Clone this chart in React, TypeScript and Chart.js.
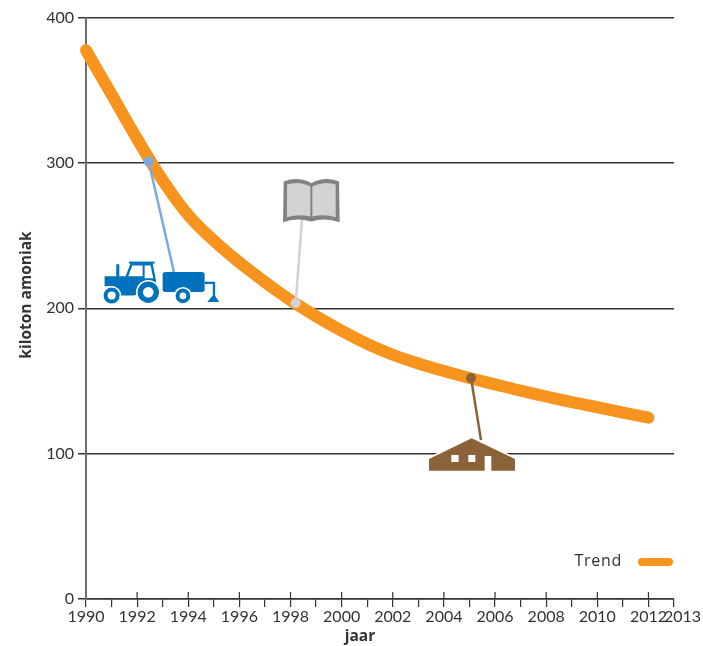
import React, { useEffect, useRef } from "react";
import { Chart, registerables } from "chart.js";

Chart.register(...registerables);

const years = [1990,1991,1992,1993,1994,1995,1996,1997,1998,1999,2000,2001,2002,2003,2004,2005,2006,2007,2008,2009,2010,2011,2012];
const trend = [377.5,347,316.5,288,264,246.5,231.5,218,205.5,194.5,184.5,175.5,168,162,156.8,152,147.6,143.3,139.3,135.5,131.9,128.2,124.7];
const tractorLeader = [{ x: 1992.45, y: 301 }, { x: 1993.44, y: 225 }];
const bookLeader = [{ x: 1998.2, y: 203.6 }, { x: 1998.45, y: 260.8 }];
const farmLeader = [{ x: 2005.06, y: 152 }, { x: 2005.45, y: 109.4 }];
const yTicks = [0, 100, 200, 300, 400];
const legendLabel = "Trend";
const xTitle = "jaar";
const yTitle = "kiloton amoniak";
const lastYear = 2013;

const ORANGE = "#f7941e";
const BLUE = "#0071bc";
const LIGHTBLUE = "#7fa9dc";
const GREY = "#d1d3d4";
const DARKGREY = "#808285";
const BROWN = "#8c6239";
const AXIS = "#6d6e71";
const GRID = "#333333";
const TEXT = "#333333";

function drawTractor(c: CanvasRenderingContext2D) {
  c.fillStyle = BLUE;
  c.fillRect(107, 372, 9, 38);
  c.fillRect(145, 364, 77, 6);
  c.beginPath();
  c.moveTo(72, 408); c.lineTo(135, 408); c.lineTo(150, 368); c.lineTo(216, 368);
  c.lineTo(226, 420); c.lineTo(226, 442); c.lineTo(160, 466); c.lineTo(120, 466); c.lineTo(100, 438); c.lineTo(72, 438);
  c.closePath(); c.fill();
  c.fillStyle = "#fff";
  c.beginPath(); c.moveTo(143, 408); c.lineTo(155, 376); c.lineTo(186, 376); c.lineTo(186, 408); c.closePath(); c.fill();
  c.beginPath(); c.moveTo(192, 376); c.lineTo(210, 376); c.lineTo(218, 414); c.lineTo(192, 414); c.closePath(); c.fill();
  const wheel = (x: number, y: number, r: number, h: number) => {
    c.fillStyle = "#fff"; c.beginPath(); c.arc(x, y, r + 5, 0, Math.PI * 2); c.fill();
    c.fillStyle = BLUE; c.beginPath(); c.arc(x, y, r, 0, Math.PI * 2); c.fill();
    c.fillStyle = "#fff"; c.beginPath(); c.arc(x, y, h, 0, Math.PI * 2); c.fill();
  };
  wheel(93, 466, 24, 12);
  wheel(203, 456, 32, 16);
  c.fillStyle = BLUE;
  c.beginPath(); c.roundRect(246, 395, 126, 60, 8); c.fill();
  wheel(307, 467, 22, 10);
  c.strokeStyle = BLUE; c.lineWidth = 7;
  c.beginPath(); c.moveTo(372, 428); c.lineTo(400, 428); c.lineTo(400, 475); c.stroke();
  c.fillStyle = BLUE;
  c.beginPath(); c.moveTo(380, 485); c.lineTo(416, 485); c.lineTo(400, 462); c.closePath(); c.fill();
}

function drawBook(c: CanvasRenderingContext2D) {
  c.fillStyle = DARKGREY;
  c.beginPath();
  c.moveTo(612, 125); c.quadraticCurveTo(655, 108, 695, 130); c.quadraticCurveTo(735, 108, 778, 125);
  c.lineTo(780, 247); c.quadraticCurveTo(735, 232, 695, 245); c.quadraticCurveTo(650, 232, 610, 247);
  c.closePath(); c.fill();
  c.fillStyle = GREY;
  c.beginPath();
  c.moveTo(622, 134); c.quadraticCurveTo(660, 122, 692, 140); c.lineTo(692, 230); c.quadraticCurveTo(655, 222, 622, 232);
  c.closePath(); c.fill();
  c.beginPath();
  c.moveTo(698, 140); c.quadraticCurveTo(735, 122, 768, 134); c.lineTo(768, 232); c.quadraticCurveTo(735, 222, 698, 230);
  c.closePath(); c.fill();
}

function drawFarm(c: CanvasRenderingContext2D) {
  const body = () => {
    c.beginPath();
    c.moveTo(57, 332); c.lineTo(57, 297); c.lineTo(185, 235); c.lineTo(315, 297); c.lineTo(315, 332);
    c.lineTo(244, 332); c.lineTo(244, 288); c.lineTo(224, 288); c.lineTo(224, 332);
    c.closePath();
  };
  c.strokeStyle = "#fff"; c.lineWidth = 10; body(); c.stroke();
  c.fillStyle = "#fff"; c.fillRect(224, 288, 20, 44);
  c.fillStyle = BROWN; body(); c.fill();
  c.fillStyle = "#fff";
  c.fillRect(124, 285, 22, 21);
  c.fillRect(175, 285, 21, 21);
}

const overlay = {
  id: "overlay",
  beforeDatasetsDraw(chart: any) {
    const { ctx: c, scales: { x, y } } = chart;
    // even-year ticks rise above the axis
    c.save();
    c.strokeStyle = GRID; c.lineWidth = 1.2;
    years.filter((v) => v % 2 === 0 && v > years[0]).forEach((v) => {
      const px = x.getPixelForValue(v);
      c.beginPath(); c.moveTo(px, y.bottom - 7); c.lineTo(px, y.bottom); c.stroke();
    });
    c.restore();
  },
  afterDatasetsDraw(chart: any) {
    const { ctx: c, scales: { x, y } } = chart;
    const place = (pt: { x: number; y: number }, ax: number, ay: number, draw: (c: CanvasRenderingContext2D) => void) => {
      c.save();
      c.translate(x.getPixelForValue(pt.x), y.getPixelForValue(pt.y));
      c.scale(1 / 3, 1 / 3);
      c.translate(-ax, -ay);
      draw(c);
      c.restore();
    };
    place(tractorLeader[1], 280, 395, drawTractor);
    place(bookLeader[1], 667, 240, drawBook);
    place(farmLeader[1], 213, 240, drawFarm);

    c.save();
    c.fillStyle = TEXT;
    c.textBaseline = "middle";

    // last year label sits just right of its tick so it clears 2012
    c.font = "16px Lato";
    c.textAlign = "left";
    c.fillText(String(lastYear), x.getPixelForValue(lastYear) - 10, 617);

    // axis titles
    c.font = "bold 15.5px 'Open Sans'";
    c.textAlign = "center";
    c.fillText(xTitle, 360, 637);
    c.save();
    c.translate(27, 295);
    c.rotate(-Math.PI / 2);
    c.fillText(yTitle, 0, 0);
    c.restore();

    // legend
    c.font = "16px 'Open Sans'";
    (c as any).letterSpacing = "0.7px";
    c.textAlign = "right";
    const ly = y.getPixelForValue(25.5);
    c.fillText(legendLabel, x.right - 52, ly);
    (c as any).letterSpacing = "0px";
    c.strokeStyle = ORANGE; c.lineWidth = 8; c.lineCap = "round";
    c.beginPath();
    c.moveTo(x.right - 32, ly);
    c.lineTo(x.right - 5, ly);
    c.stroke();
    c.restore();
  },
};

export default function App() {
  const ref = useRef<HTMLCanvasElement>(null);
  useEffect(() => {
    const leader = (label: string, data: any[], color: string) => ({
      type: "line" as const, label, data, borderColor: color, backgroundColor: color,
      borderWidth: 2.5, tension: 0, pointRadius: [5, 0], pointBorderWidth: 0, order: 0,
    });
    const chart = new Chart(ref.current!, {
      type: "line",
      data: {
        datasets: [
          leader("tractor", tractorLeader, LIGHTBLUE),
          leader("book", bookLeader, GREY),
          leader("farm", farmLeader, BROWN),
          {
            label: legendLabel,
            data: years.map((yr, i) => ({ x: yr, y: trend[i] })),
            borderColor: ORANGE, backgroundColor: ORANGE, borderWidth: 12,
            borderCapStyle: "round", borderJoinStyle: "round",
            tension: 0.4, pointRadius: 0, clip: false, order: 1,
          } as any,
        ],
      },
      options: {
        animation: false,
        responsive: false,
        devicePixelRatio: 1,
        layout: { padding: { top: 17.5, right: 29, left: 0, bottom: 0 } },
        plugins: { legend: { display: false }, tooltip: { enabled: false } },
        scales: {
          x: {
            type: "linear", min: 1990, max: 2013,
            afterFit: (s: any) => { s.height = 47; },
            afterBuildTicks: (s: any) => { s.ticks = Array.from({ length: 24 }, (_, i) => ({ value: 1990 + i })); },
            ticks: {
              autoSkip: false, maxRotation: 0, padding: 0, color: TEXT,
              font: { family: "Lato", size: 16 },
              callback: (v: any) => (v % 2 === 0 ? String(v) : ""),
            },
            grid: { drawOnChartArea: false, drawTicks: true, tickLength: 8, color: GRID, lineWidth: 1.2 },
            border: { display: true, color: GRID, width: 1.5 },
          },
          y: {
            min: 0, max: 400,
            afterFit: (s: any) => { s.width = 86; },
            afterBuildTicks: (s: any) => { s.ticks = yTicks.map((value) => ({ value })); },
            ticks: { padding: 4, color: TEXT, font: { family: "Lato", size: 16 } },
            grid: { color: GRID, lineWidth: 1.5, tickLength: 8 },
            border: { display: true, color: AXIS, width: 2 },
          },
        },
      },
      plugins: [overlay],
    } as any);
    return () => chart.destroy();
  }, []);
  return (
    <div style={{ position: "fixed", left: 0, top: 0 }}>
      <canvas ref={ref} width={703} height={646} style={{ display: "block" }} />
    </div>
  );
}
